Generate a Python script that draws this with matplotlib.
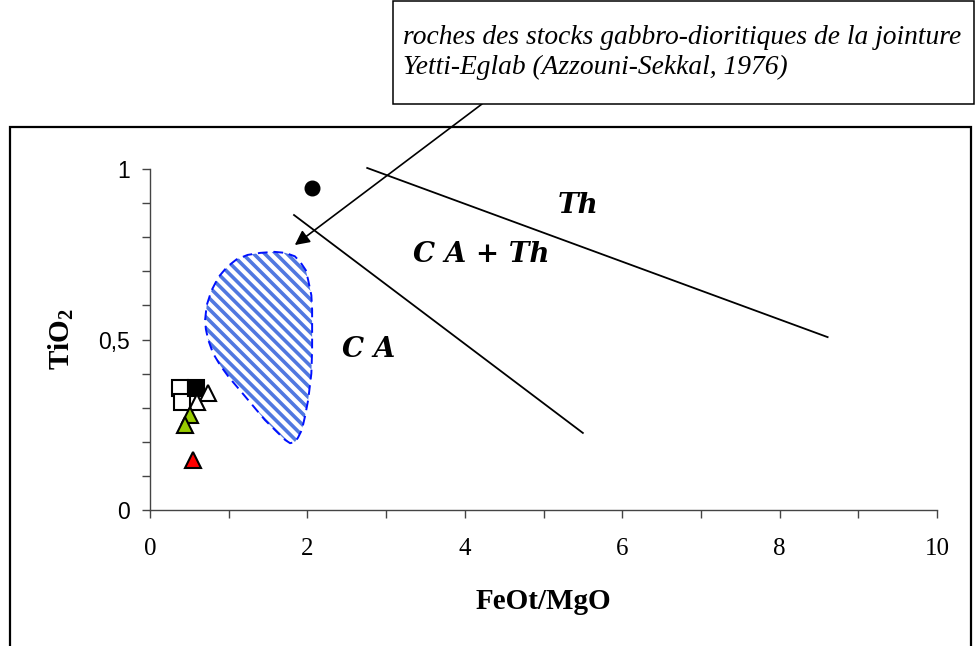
import matplotlib
matplotlib.use("Agg")
import matplotlib.pyplot as plt
from matplotlib.patches import Polygon, Rectangle
from matplotlib.ticker import MultipleLocator, FixedLocator, FuncFormatter

plt.rcParams["mathtext.fontset"] = "custom"
plt.rcParams["mathtext.rm"] = "Liberation Serif:bold"
plt.rcParams["mathtext.bf"] = "Liberation Serif:bold"
plt.rcParams["mathtext.default"] = "rm"
plt.rcParams["hatch.linewidth"] = 2.6

# ---- data ----
open_sq_x = [0.38, 0.41]
open_sq_y = [0.358, 0.317]
filled_sq_x = [0.58]
filled_sq_y = [0.358]
open_tri_x = [0.74, 0.60]
open_tri_y = [0.343, 0.317]
green_tri_x = [0.51, 0.44]
green_tri_y = [0.279, 0.249]
red_tri_x = [0.55]
red_tri_y = [0.147]
circle_x = [2.06]
circle_y = [0.944]

# boundary lines
line_th_x = [2.76, 8.61]
line_th_y = [1.003, 0.507]
line_ca_x = [1.83, 5.50]
line_ca_y = [0.865, 0.226]

# field of gabbro-dioritic stocks (outline)
field_x = [0.70, 0.72, 0.78, 0.87, 0.98, 1.10, 1.24, 1.40, 1.58, 1.72, 1.84, 1.91, 1.98, 2.01, 2.05, 2.06,
           2.06, 2.05, 2.01, 1.97, 1.93, 1.88, 1.84, 1.78, 1.72, 1.60, 1.46, 1.30, 1.14, 1.00, 0.89, 0.80, 0.74, 0.71]
field_y = [0.557, 0.600, 0.643, 0.683, 0.713, 0.735, 0.748, 0.754, 0.757, 0.754, 0.744, 0.727, 0.703, 0.674, 0.630, 0.587,
           0.469, 0.400, 0.323, 0.275, 0.235, 0.212, 0.199, 0.196, 0.205, 0.232, 0.264, 0.308, 0.352, 0.390, 0.425, 0.460, 0.499, 0.530]

x_ticks = [0, 2, 4, 6, 8, 10]
y_ticks = [0, 0.5, 1]
y_tick_labels = ["0", "0,5", "1"]

W, H = 975, 646
fig = plt.figure(figsize=(W / 100, H / 100), dpi=100)

def fx(px):
    return px / W

def fy(py):
    return 1 - py / H

ax = fig.add_axes([fx(150), fy(510), fx(937) - fx(150), fy(169) - fy(510)])
ax.set_xlim(0, 10)
ax.set_ylim(0, 1)
for s in ["top", "right"]:
    ax.spines[s].set_visible(False)
for s in ["left", "bottom"]:
    ax.spines[s].set_linewidth(1.0)
    ax.spines[s].set_color("#444444")

ax.xaxis.set_major_locator(FixedLocator(x_ticks))
ax.xaxis.set_minor_locator(MultipleLocator(1))
ax.yaxis.set_major_locator(FixedLocator(y_ticks))
ax.yaxis.set_minor_locator(MultipleLocator(0.1))
ax.yaxis.set_major_formatter(FuncFormatter(
    lambda v, p: y_tick_labels[y_ticks.index(round(v, 1))] if round(v, 1) in y_ticks else ""))
ax.tick_params(which="both", direction="out", length=5.5, width=1.0, color="#444444")
ax.tick_params(axis="x", which="major", pad=15, labelsize=18, labelfontfamily="Liberation Serif")
ax.tick_params(axis="y", which="major", pad=9, labelsize=16.5, labelfontfamily="Liberation Sans")

ax.set_xlabel("FeOt/MgO", fontfamily="Liberation Serif", fontweight="bold", fontsize=21, labelpad=20)
ax.set_ylabel("TiO$_2$", fontfamily="Liberation Serif", fontweight="bold", fontsize=21, labelpad=16)

# boundary lines
ax.plot(line_th_x, line_th_y, color="black", lw=1.3, clip_on=False)
ax.plot(line_ca_x, line_ca_y, color="black", lw=1.3, clip_on=False)

# hatched field
pts = list(zip(field_x, field_y))
hatch_patch = Polygon(pts, closed=True, facecolor="white", edgecolor="#5078e0", hatch="\\\\\\", linewidth=0)
ax.add_patch(hatch_patch)
outline = Polygon(pts, closed=True, fill=False, edgecolor="#0010ff", linewidth=1.4, linestyle=(0, (5, 3)))
ax.add_patch(outline)

# markers
ax.plot(open_sq_x, open_sq_y, "s", ms=11, mfc="white", mec="black", mew=1.5, clip_on=False)
ax.plot(filled_sq_x, filled_sq_y, "s", ms=11, mfc="black", mec="black", mew=1.5, clip_on=False)
ax.plot(open_tri_x, open_tri_y, "^", ms=12, mfc="white", mec="black", mew=1.5, clip_on=False)
ax.plot(green_tri_x, green_tri_y, "^", ms=12, mfc="#99cc00", mec="black", mew=1.5, clip_on=False)
ax.plot(red_tri_x, red_tri_y, "^", ms=12, mfc="#ff0000", mec="black", mew=1.5, clip_on=False)
ax.plot(circle_x, circle_y, "o", ms=10.5, mfc="black", mec="black", clip_on=False)

# field labels
lab_kw = dict(fontfamily="DejaVu Serif", fontweight="bold", fontstyle="italic", fontsize=20, va="baseline", ha="left")
ax.text(5.18, 0.871, "Th", **lab_kw)
ax.text(3.34, 0.727, "C A + Th", **lab_kw)
ax.text(2.44, 0.449, "C A", **lab_kw)

# outer frame
fig.patches.append(Rectangle((fx(10), fy(660)), fx(971) - fx(10), fy(127) - fy(660),
                             transform=fig.transFigure, fill=False, edgecolor="black", linewidth=1.6))
# annotation box
fig.patches.append(Rectangle((fx(393), fy(104)), fx(974) - fx(393), fy(1) - fy(104),
                             transform=fig.transFigure, facecolor="white", edgecolor="black", linewidth=1.1, zorder=5))
box_kw = dict(fontfamily="Liberation Serif", fontstyle="italic", fontsize=19.8, va="center", ha="left", zorder=6)
fig.text(fx(403), fy(37), "roches des stocks gabbro-dioritiques de la jointure", **box_kw)
fig.text(fx(403), fy(67), "Yetti-Eglab (Azzouni-Sekkal, 1976)", **box_kw)

# arrow
ax.annotate("", xy=(1.84, 0.777), xycoords="data",
            xytext=(482, H - 104), textcoords="figure pixels",
            arrowprops=dict(arrowstyle="-|>", color="black", lw=1.2, mutation_scale=22, shrinkA=0, shrinkB=0),
            annotation_clip=False)

fig.savefig("out.png", dpi=100)
